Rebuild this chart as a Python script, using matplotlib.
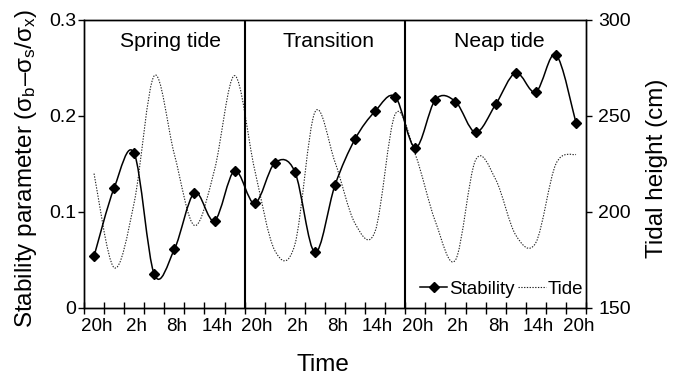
import numpy as np
import matplotlib
matplotlib.use('Agg')
import matplotlib.pyplot as plt
from matplotlib.path import Path
from matplotlib.patches import PathPatch
from matplotlib.lines import Line2D
import matplotlib.transforms as mtransforms

# ---------------- data ----------------
time_labels = ['20h', '2h', '8h', '14h', '20h', '2h', '8h', '14h',
               '20h', '2h', '8h', '14h', '20h']
stability = [0.054, 0.125, 0.161, 0.035, 0.061, 0.120, 0.091, 0.143,
             0.109, 0.151, 0.142, 0.058, 0.128, 0.176, 0.205, 0.220,
             0.167, 0.217, 0.215, 0.183, 0.212, 0.245, 0.225, 0.264, 0.193]
tide = [220, 171, 205, 271, 230, 193, 222, 271,
        222, 180, 183, 252, 226, 194, 190, 251,
        230, 195, 175, 227, 217, 188, 184, 225, 230]
phases = ['Spring tide', 'Transition', 'Neap tide']
phase_label_x = [3.8, 11.7, 20.2]
phase_bounds = [7.5, 15.5]

# ---------------- style ----------------
plt.rcParams['font.family'] = ['Liberation Sans', 'DejaVu Sans']
plt.rcParams['mathtext.fontset'] = 'custom'
plt.rcParams['mathtext.rm'] = 'Liberation Sans'
plt.rcParams['mathtext.it'] = 'Liberation Sans'
plt.rcParams['mathtext.sf'] = 'Liberation Sans'
plt.rcParams['axes.linewidth'] = 1.0


def smooth_path(x, y):
    """Excel-like smoothed line (Catmull-Rom as cubic Bezier segments)."""
    x = np.asarray(x, float)
    y = np.asarray(y, float)
    n = len(x)
    verts = [(x[0], y[0])]
    codes = [Path.MOVETO]
    for i in range(n - 1):
        i0 = max(i - 1, 0)
        i3 = min(i + 2, n - 1)
        c1 = (x[i] + (x[i + 1] - x[i0]) / 6, y[i] + (y[i + 1] - y[i0]) / 6)
        c2 = (x[i + 1] - (x[i3] - x[i]) / 6, y[i + 1] - (y[i3] - y[i]) / 6)
        verts += [c1, c2, (x[i + 1], y[i + 1])]
        codes += [Path.CURVE4] * 3
    return Path(verts, codes)


W, H = 681, 375
fig = plt.figure(figsize=(W / 100, H / 100), dpi=100)
ax = fig.add_axes([84 / W, 67 / H, 502 / W, 288 / H])
ax2 = ax.twinx()
ax.set_zorder(ax2.get_zorder() + 1)
ax.patch.set_visible(False)

x = np.arange(len(stability))
ax.set_xlim(-0.5, len(stability) - 0.5)
ax.set_ylim(0, 0.3)
ax2.set_ylim(150, 300)

tide_ls = (0, (1.2, 1.3))
tide_col = '#222222'
ax2.add_patch(PathPatch(smooth_path(x, tide), fill=False, lw=0.8,
                        ls=tide_ls, ec=tide_col))
ax.add_patch(PathPatch(smooth_path(x, stability), fill=False, lw=1.1,
                       ec='black'))
ax.plot(x, stability, 'D', ms=4.8, color='black', zorder=5)

for b in phase_bounds:
    ax.axvline(b, color='black', lw=1.5)

trans = mtransforms.blended_transform_factory(ax.transData, ax.transAxes)
for name, px in zip(phases, phase_label_x):
    ax.text(px, 0.905, name, transform=trans, ha='center', va='baseline',
            fontsize=15.2)

# ticks
ax.set_xticks(np.arange(-0.5, len(stability), 1))
ax.set_xticklabels([])
ax.tick_params(axis='x', which='major', direction='inout', length=9, width=1)
ax.set_xticks(np.arange(0, len(stability), 2), minor=True)
ax.set_xticklabels(time_labels, minor=True)
ax.tick_params(axis='x', which='minor', length=0, pad=7, labelsize=13.5)
for lbl in ax.get_xticklabels(minor=True):
    lbl.set_transform(lbl.get_transform() +
                      mtransforms.ScaledTranslation(2.5 / 100, 0, fig.dpi_scale_trans))

ax.set_yticks([0, 0.1, 0.2, 0.3])
ax.set_yticklabels(['0', '0.1', '0.2', '0.3'])
ax.tick_params(axis='y', direction='out', length=4, width=1, pad=1.5, labelsize=14)
ax2.set_yticks([150, 200, 250, 300])
ax2.tick_params(axis='y', direction='out', length=4, width=1, pad=5, labelsize=14)

# legend
handles = [Line2D([], [], color='black', lw=1.1, marker='D', ms=4.8),
           Line2D([], [], color=tide_col, lw=0.8, ls=tide_ls)]
ax.legend(handles, ['Stability', 'Tide'], loc='lower right',
          bbox_to_anchor=(583 / W, 77 / H), bbox_transform=fig.transFigure,
          ncol=2, frameon=False, fontsize=13.5, handlelength=1.45,
          handletextpad=0.1, columnspacing=0.2, borderpad=0, borderaxespad=0)

# axis labels
fig.text(26 / W, 1 - 169 / H,
         r'Stability parameter ($\sigma_\mathrm{b}$–$\sigma_\mathrm{s}$/$\sigma_\mathrm{x}$)',
         rotation=90, ha='center', va='center', fontsize=17.5)
fig.text(657.5 / W, 1 - 168 / H, 'Tidal height (cm)', rotation=90,
         ha='center', va='center', fontsize=17.5)
fig.text(322.5 / W, 4 / H, 'Time', ha='center', va='baseline', fontsize=17.5)

fig.savefig('out.png', dpi=100)
